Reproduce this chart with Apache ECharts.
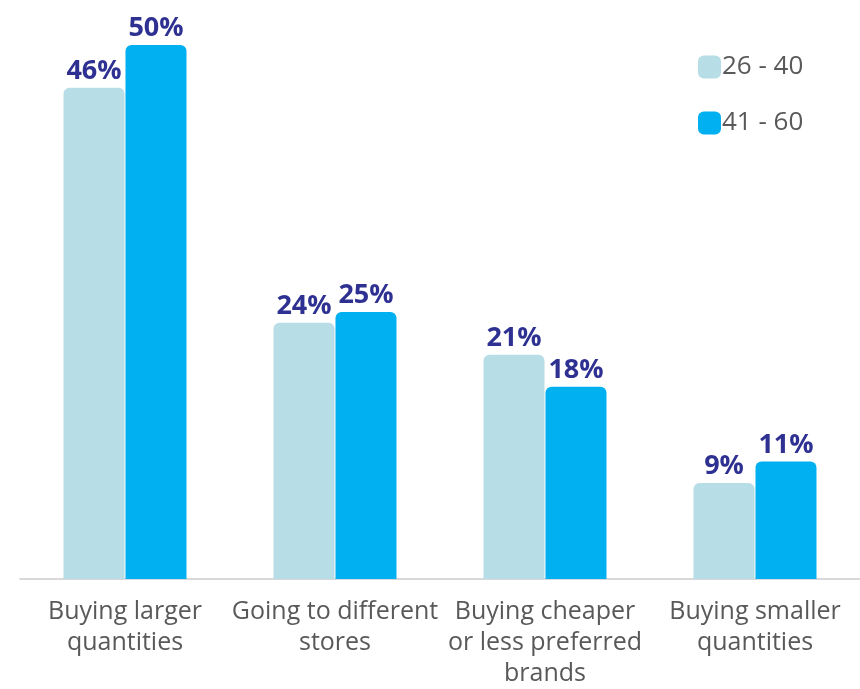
<!DOCTYPE html>
<html>
<head>
<meta charset="utf-8">
<script src="https://cdn.jsdelivr.net/npm/echarts@6/dist/echarts.min.js"></script>
<style>
	html, body { margin: 0; padding: 0; background: #fff; }
	#main { width: 860px; height: 689px; }
</style>
</head>
<body>
<div id="main"></div>
<script>
//分类
var categories = ['Buying larger\nquantities', 'Going to different\nstores', 'Buying cheaper\nor less preferred\nbrands', 'Buying smaller\nquantities'];
//两个年龄段
var seriesNames = ['26 - 40', '41 - 60'];
var young = [46, 24, 21, 9];
var older = [50, 25, 18, 11];

var myChart = echarts.init(document.getElementById('main'));
var option = {
	animation: false,
	color: ['#b7dde6', '#00b0f0'],
	legend: {
		orient: 'vertical',
		left: 698,
		top: 54,
		padding: 0,
		itemWidth: 23,
		itemHeight: 23,
		itemGap: 30,
		icon: 'roundRect',
		data: seriesNames,
		textStyle: {
			fontFamily: 'Open Sans',
			fontSize: 26,
			color: '#595959',
			padding: [0, 0, 0, -4]
		}
	},
	grid: {
		left: 20,
		width: 843,
		top: 45,
		bottom: 106
	},
	xAxis: [{
		type: 'category',
		data: categories,
		axisTick: { show: false },
		axisLine: {
			lineStyle: { color: '#d9d9d9', width: 2 }
		},
		axisLabel: {
			interval: 0,
			margin: 17,
			fontFamily: 'Open Sans',
			fontSize: 25,
			lineHeight: 31,
			color: '#595959'
		}
	}],
	yAxis: [{
		type: 'value',
		min: 0,
		max: 50,
		show: false,
		splitLine: { show: false }
	}],
	series: [{
		name: seriesNames[0],
		type: 'bar',
		data: young,
		barWidth: 61,
		barGap: '1.6%',
		itemStyle: { borderRadius: [6, 6, 0, 0] },
		label: {
			show: true,
			position: 'top',
			distance: 3,
			formatter: '{c}%',
			fontFamily: 'Open Sans',
			fontWeight: 'bold',
			fontSize: 27,
			color: '#2e3192'
		}
	}, {
		name: seriesNames[1],
		type: 'bar',
		data: older,
		barWidth: 61,
		barGap: '1.6%',
		itemStyle: { borderRadius: [6, 6, 0, 0] },
		label: {
			show: true,
			position: 'top',
			distance: 3,
			formatter: '{c}%',
			fontFamily: 'Open Sans',
			fontWeight: 'bold',
			fontSize: 27,
			color: '#2e3192'
		}
	}]
};
myChart.setOption(option);
</script>
</body>
</html>
